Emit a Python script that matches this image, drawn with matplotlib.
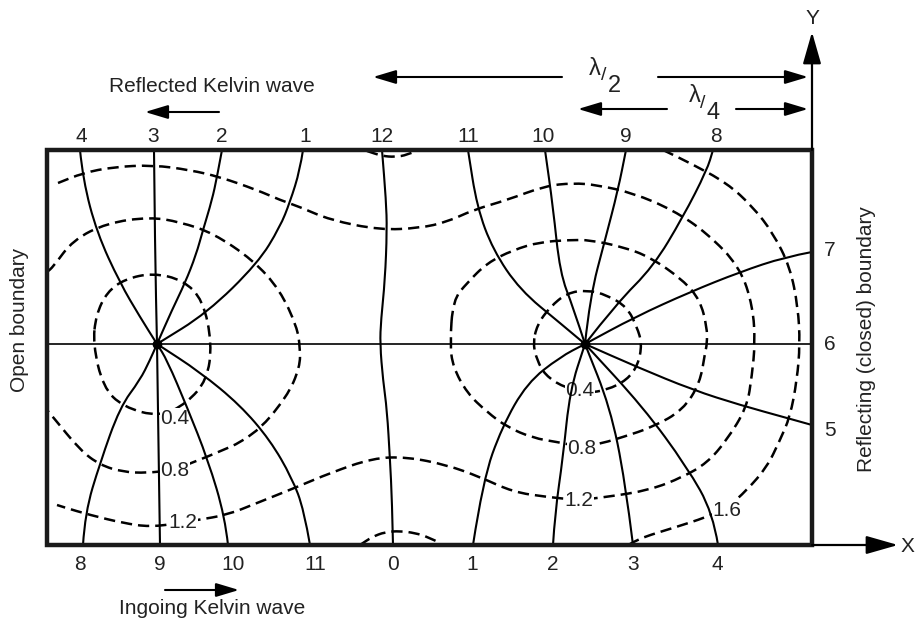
import matplotlib
matplotlib.use('Agg')
import matplotlib.pyplot as plt
from matplotlib.path import Path
from matplotlib.patches import PathPatch, Rectangle

plt.rcParams['font.family'] = ['Liberation Sans', 'DejaVu Sans']

# all coordinates (x to the right, y downwards)
basin = (47, 150, 812, 545)          # left, top, right, bottom
amphidromes = [(157, 344), (585, 344)]

# co-tidal lines (solid), one list of points per hour line
cotidal = [
    [(157, 344), (140, 317), (120, 283), (97, 233), (83, 180), (80, 150)],
    [(157, 344), (155, 250), (154, 150)],
    [(157, 344), (172, 310), (185, 283), (196, 255), (203, 230), (212, 200), (217, 177), (222, 150)],
    [(157, 344), (207, 313), (258, 263), (280, 227), (290, 202), (300, 170), (303, 150)],
    [(157, 344), (150, 360), (140, 380), (120, 407), (100, 463), (85, 513), (83, 545)],
    [(157, 344), (160, 545)],
    [(157, 344), (167, 360), (187, 407), (208, 460), (225, 517), (228, 545)],
    [(157, 344), (200, 372), (240, 405), (270, 440), (292, 478), (304, 510), (310, 545)],
    [(382, 150), (386, 200), (387, 230), (385, 280), (381, 320), (380, 344),
     (383, 380), (387, 410), (390, 460), (392, 500), (393, 545)],
    [(468, 150), (477, 207), (493, 250), (520, 290), (560, 323), (585, 344)],
    [(545, 150), (553, 207), (560, 273), (573, 307), (585, 344)],
    [(626, 150), (618, 190), (605, 240), (590, 297), (585, 344)],
    [(713, 150), (707, 170), (683, 217), (653, 267), (617, 303), (585, 344)],
    [(585, 344), (635, 317), (690, 292), (740, 272), (785, 257), (812, 252)],
    [(585, 344), (637, 367), (693, 390), (740, 405), (787, 418), (812, 425)],
    [(585, 344), (643, 407), (687, 467), (713, 513), (718, 545)],
    [(585, 344), (610, 407), (625, 480), (633, 545)],
    [(585, 344), (570, 390), (563, 457), (555, 513), (553, 545)],
    [(585, 344), (560, 357), (527, 383), (502, 427), (483, 480), (473, 545)],
]
midline = [(47, 344), (812, 344)]

# co-range lines (dashed)
corange_open = [
    # 0.8 around the left amphidrome, cut by the open boundary
    [(47, 272), (53, 267), (73, 240), (107, 223), (150, 217), (180, 222), (213, 233),
     (253, 260), (280, 290), (297, 327), (300, 347), (300, 367), (287, 397), (253, 437),
     (207, 457), (173, 470), (147, 473), (123, 472), (100, 465), (80, 450), (53, 417), (47, 410)],
    # 1.2
    [(58, 183), (83, 173), (113, 167), (153, 165), (190, 170), (220, 177), (257, 190),
     (280, 200), (300, 207), (330, 220), (380, 230), (420, 228), (447, 222), (473, 210),
     (507, 200), (545, 186), (573, 183), (597, 185), (633, 193), (673, 210), (707, 233),
     (740, 267), (753, 307), (755, 344), (752, 375), (747, 407), (727, 440), (707, 463),
     (683, 477), (650, 490), (607, 497), (578, 500), (547, 497), (513, 492), (480, 477),
     (447, 465), (407, 457), (373, 458), (330, 473), (297, 487), (257, 503), (227, 515),
     (197, 520), (180, 523), (150, 527), (123, 523), (90, 515), (63, 507), (57, 505)],
    # 1.6
    [(663, 150), (690, 163), (727, 183), (753, 207), (773, 233), (790, 267), (798, 307),
     (800, 344), (797, 380), (790, 417), (780, 440), (767, 467), (747, 490), (727, 508),
     (707, 517), (673, 528), (650, 535), (637, 540), (630, 544)],
    # small pieces near the 12 / 0 line
    [(367, 151), (382, 156), (395, 157), (407, 155), (416, 151)],
    [(360, 545), (372, 537), (385, 532), (400, 531), (415, 533), (428, 537), (440, 543)],
]
corange_closed = [
    [(93, 344), (96, 315), (107, 292), (125, 279), (153, 273), (183, 280), (203, 300),
     (212, 344), (207, 380), (187, 403), (160, 417), (123, 407), (103, 387)],
    [(533, 344), (537, 325), (550, 307), (567, 293), (587, 290), (607, 295), (627, 307),
     (637, 327), (642, 344), (638, 365), (627, 380), (607, 390), (587, 393), (563, 387),
     (545, 375), (537, 360)],
    [(450, 344), (453, 300), (467, 283), (487, 263), (513, 250), (540, 242), (570, 240),
     (590, 240), (623, 247), (650, 257), (683, 280), (700, 300), (707, 327), (707, 344),
     (705, 353), (700, 383), (683, 410), (653, 427), (623, 437), (603, 443), (582, 447),
     (557, 442), (533, 438), (507, 427), (487, 412), (467, 393), (453, 367)],
]

range_labels = ['0.4', '0.8', '1.2', '0.4', '0.8', '1.2', '1.6']
range_label_xy = [(175, 418), (175, 470), (183, 523), (580, 390), (582, 448), (579, 501), (727, 510)]

top_hours = ['4', '3', '2', '1', '12', '11', '10', '9', '8']
top_hours_x = [81, 153, 222, 305, 382, 468, 543, 626, 716]
bottom_hours = ['8', '9', '10', '11', '0', '1', '2', '3', '4']
bottom_hours_x = [80, 160, 233, 315, 393, 472, 553, 633, 717]
right_hours = ['7', '6', '5']
right_hours_y = [251, 344, 431]


def smooth(pts, closed=False):
    # quadratic B-spline through midpoints, drawn with matplotlib curve codes
    mid = lambda a, b: ((a[0] + b[0]) / 2, (a[1] + b[1]) / 2)
    n = len(pts)
    if closed:
        verts = [mid(pts[0], pts[1])]
        codes = [Path.MOVETO]
        for i in range(1, n + 1):
            verts += [pts[i % n], mid(pts[i % n], pts[(i + 1) % n])]
            codes += [Path.CURVE3, Path.CURVE3]
        return Path(verts, codes)
    if n < 3:
        return Path(pts)
    verts = [pts[0], mid(pts[0], pts[1])]
    codes = [Path.MOVETO, Path.LINETO]
    for i in range(1, n - 2):
        verts += [pts[i], mid(pts[i], pts[i + 1])]
        codes += [Path.CURVE3, Path.CURVE3]
    verts += [pts[n - 2], pts[n - 1]]
    codes += [Path.CURVE3, Path.CURVE3]
    return Path(verts, codes)


fig = plt.figure(figsize=(9.19, 6.2), dpi=100)
ax = fig.add_axes([0, 0, 1, 1])
ax.set_xlim(0, 919)
ax.set_ylim(620, 0)
ax.axis('off')

FS = 15
dash = (0, (4.5, 2.4))
for pts in corange_open:
    ax.add_patch(PathPatch(smooth(pts), fill=False, lw=1.8, linestyle=dash, ec='black', zorder=1))
for pts in corange_closed:
    ax.add_patch(PathPatch(smooth(pts, closed=True), fill=False, lw=1.8, linestyle=dash, ec='black', zorder=1))

for lab, (x, y) in zip(range_labels, range_label_xy):
    ax.text(x, y, lab, fontsize=FS, ha='center', va='center', zorder=2, color='#222222',
            bbox=dict(fc='white', ec='none', pad=0.2))

for pts in cotidal:
    ax.add_patch(PathPatch(smooth(pts), fill=False, lw=1.5, ec='black', capstyle='round', zorder=3))
ax.plot(*zip(*midline), color='black', lw=1.2, zorder=3)
ax.plot(*zip(*amphidromes), 'o', color='black', ms=6, zorder=4)

left, top, right, bottom = basin
ax.add_patch(Rectangle((left, top), right - left, bottom - top, fill=False, lw=3.2, ec='#1a1a1a', zorder=5))

# axes arrows
arrow = dict(arrowstyle='-|>,head_length=1.4,head_width=0.4', color='black', lw=1.6,
             mutation_scale=14, shrinkA=0, shrinkB=0)
ax.annotate('', xy=(right, 32), xytext=(right, top), arrowprops=arrow, zorder=5)
ax.annotate('', xy=(898, bottom), xytext=(right, bottom), arrowprops=arrow, zorder=5)
ax.text(right, 18, 'Y', fontsize=FS, ha='center', va='center', color='#222222')
ax.text(907, 547, 'X', fontsize=FS, ha='center', va='center', color='#222222')

for lab, x in zip(top_hours, top_hours_x):
    ax.text(x, 136, lab, fontsize=FS, ha='center', va='center', color='#222222')
for lab, x in zip(bottom_hours, bottom_hours_x):
    ax.text(x, 564, lab, fontsize=FS, ha='center', va='center', color='#222222')
for lab, y in zip(right_hours, right_hours_y):
    ax.text(830, y, lab, fontsize=FS, ha='center', va='center', color='#222222')

ax.text(20, 320, 'Open boundary', fontsize=FS, rotation=90, ha='center', va='center', color='#222222')
ax.text(866, 339, 'Reflecting (closed) boundary', fontsize=FS, rotation=90, ha='center', va='center',
        color='#222222')

# wave direction arrows
small = dict(arrowstyle='-|>,head_length=1.0,head_width=0.3', color='black', lw=1.5,
             mutation_scale=14, shrinkA=0, shrinkB=0)
ax.text(212, 86, 'Reflected Kelvin wave', fontsize=FS, ha='center', va='center', color='#222222')
ax.annotate('', xy=(145, 112), xytext=(219, 112), arrowprops=small)
ax.text(212, 608, 'Ingoing Kelvin wave', fontsize=FS, ha='center', va='center', color='#222222')
ax.annotate('', xy=(239, 590), xytext=(165, 590), arrowprops=small)

# wavelength markers
ax.annotate('', xy=(373, 77), xytext=(562, 77), arrowprops=small)
ax.annotate('', xy=(808, 77), xytext=(658, 77), arrowprops=small)
ax.text(595, 69, '\u03bb', fontsize=17, ha='center', va='center', color='#222222')
ax.text(604, 75, '/', fontsize=14, ha='center', va='center', color='#222222')
ax.text(614, 86, '2', fontsize=17, ha='center', va='center', color='#222222')

ax.annotate('', xy=(578, 109), xytext=(667, 109), arrowprops=small)
ax.annotate('', xy=(808, 109), xytext=(736, 109), arrowprops=small)
ax.text(695, 96, '\u03bb', fontsize=17, ha='center', va='center', color='#222222')
ax.text(703, 103, '/', fontsize=14, ha='center', va='center', color='#222222')
ax.text(713, 113, '4', fontsize=17, ha='center', va='center', color='#222222')

fig.savefig('out.png', dpi=100)
